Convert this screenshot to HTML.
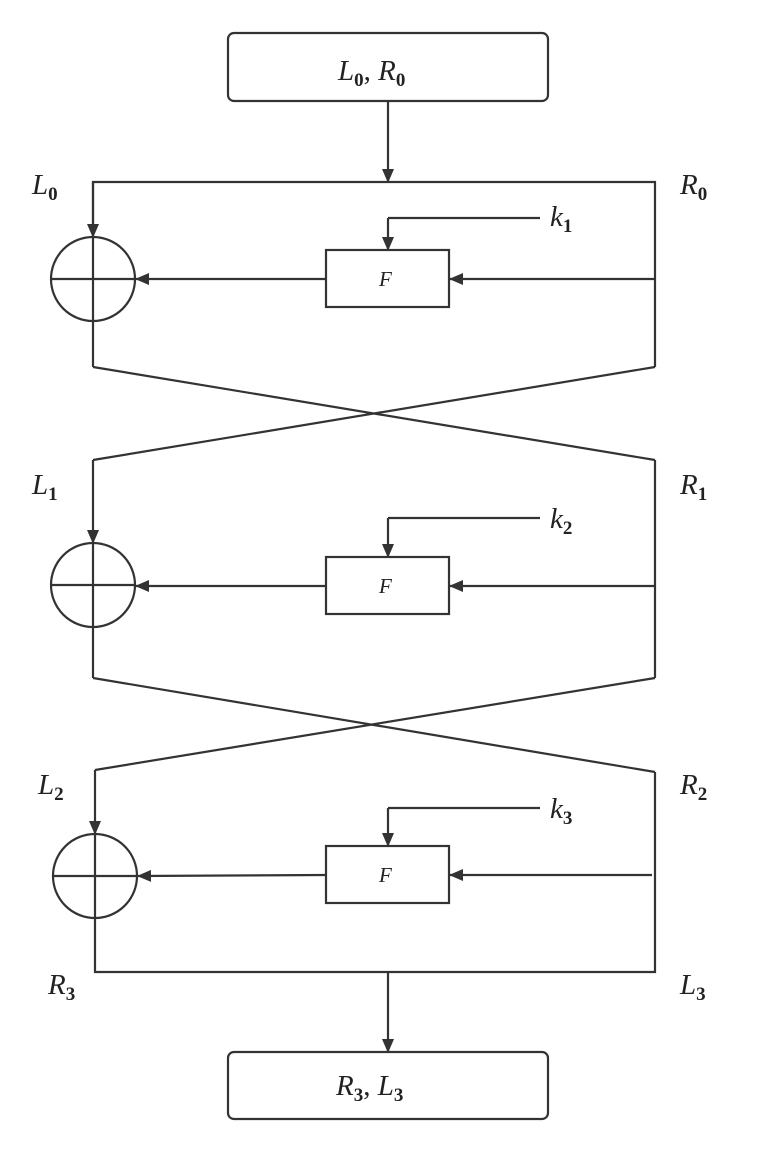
<!DOCTYPE html>
<html><head><style>body{margin:0;background:#fff}svg{display:block}text{font-family:"Liberation Serif",serif;font-style:italic;fill:#222}</style></head><body>
<svg width="762" height="1160" viewBox="0 0 762 1160" xmlns="http://www.w3.org/2000/svg">
<defs><marker id="a" markerWidth="14" markerHeight="12" refX="13" refY="6" orient="auto" markerUnits="userSpaceOnUse"><path d="M0,0 L14,6 L0,12 Z" fill="#333"/></marker></defs>
<g stroke="#333" stroke-width="2.2" fill="none">
<rect x="228" y="33" width="320" height="68" rx="6"/>
<rect x="228" y="1052" width="320" height="67" rx="6"/>
<line x1="388" y1="101" x2="388" y2="182" marker-end="url(#a)"/>
<path d="M93,237 V182 H655 V367"/>
<line x1="93" y1="182" x2="93" y2="237" marker-end="url(#a)"/>
<circle cx="93" cy="279" r="42"/><path d="M51,279 H135 M93,237 V367"/>
<rect x="326" y="250" width="123" height="57"/>
<line x1="655" y1="279" x2="450" y2="279" marker-end="url(#a)"/>
<line x1="326" y1="279" x2="136" y2="279" marker-end="url(#a)"/>
<path d="M540,218 H388"/><line x1="388" y1="218" x2="388" y2="250" marker-end="url(#a)"/>
<line x1="93" y1="367" x2="655" y2="460"/><line x1="655" y1="367" x2="93" y2="460"/>
<line x1="93" y1="460" x2="93" y2="543" marker-end="url(#a)"/>
<path d="M655,460 V678"/>
<circle cx="93" cy="585" r="42"/><path d="M51,585 H135 M93,543 V678"/>
<rect x="326" y="557" width="123" height="57"/>
<line x1="655" y1="586" x2="450" y2="586" marker-end="url(#a)"/>
<line x1="326" y1="586" x2="136" y2="586" marker-end="url(#a)"/>
<path d="M540,518 H388"/><line x1="388" y1="518" x2="388" y2="557" marker-end="url(#a)"/>
<line x1="93" y1="678" x2="655" y2="772"/><line x1="655" y1="678" x2="95" y2="770"/>
<line x1="95" y1="770" x2="95" y2="834" marker-end="url(#a)"/>
<circle cx="95" cy="876" r="42"/><path d="M53,876 H137 M95,834 V972 H655 V772"/>
<rect x="326" y="846" width="123" height="57"/>
<line x1="652" y1="875" x2="450" y2="875" marker-end="url(#a)"/>
<line x1="326" y1="875" x2="138" y2="876" marker-end="url(#a)"/>
<path d="M540,808 H388"/><line x1="388" y1="808" x2="388" y2="846" marker-end="url(#a)"/>
<line x1="388" y1="972" x2="388" y2="1052" marker-end="url(#a)"/>
</g>
<g font-size="29">
<text x="338" y="80">L<tspan font-size="19" font-style="normal" font-weight="bold" dy="6">0</tspan><tspan dy="-6" font-style="normal">, </tspan>R<tspan font-size="19" font-style="normal" font-weight="bold" dy="6">0</tspan></text>
<text x="336" y="1095">R<tspan font-size="19" font-style="normal" font-weight="bold" dy="6">3</tspan><tspan dy="-6" font-style="normal">, </tspan>L<tspan font-size="19" font-style="normal" font-weight="bold" dy="6">3</tspan></text>
<text x="32" y="194">L<tspan font-size="19" font-style="normal" font-weight="bold" dy="6">0</tspan></text>
<text x="680" y="194">R<tspan font-size="19" font-style="normal" font-weight="bold" dy="6">0</tspan></text>
<text x="550" y="226">k<tspan font-size="19" font-style="normal" font-weight="bold" dy="6">1</tspan></text>
<text x="32" y="494">L<tspan font-size="19" font-style="normal" font-weight="bold" dy="6">1</tspan></text>
<text x="680" y="494">R<tspan font-size="19" font-style="normal" font-weight="bold" dy="6">1</tspan></text>
<text x="550" y="528">k<tspan font-size="19" font-style="normal" font-weight="bold" dy="6">2</tspan></text>
<text x="38" y="794">L<tspan font-size="19" font-style="normal" font-weight="bold" dy="6">2</tspan></text>
<text x="680" y="794">R<tspan font-size="19" font-style="normal" font-weight="bold" dy="6">2</tspan></text>
<text x="550" y="818">k<tspan font-size="19" font-style="normal" font-weight="bold" dy="6">3</tspan></text>
<text x="48" y="994">R<tspan font-size="19" font-style="normal" font-weight="bold" dy="6">3</tspan></text>
<text x="680" y="994">L<tspan font-size="19" font-style="normal" font-weight="bold" dy="6">3</tspan></text>
</g>
<g font-size="21"><text x="379" y="286">F</text><text x="379" y="593">F</text><text x="379" y="882">F</text></g>
</svg>
</body></html>
